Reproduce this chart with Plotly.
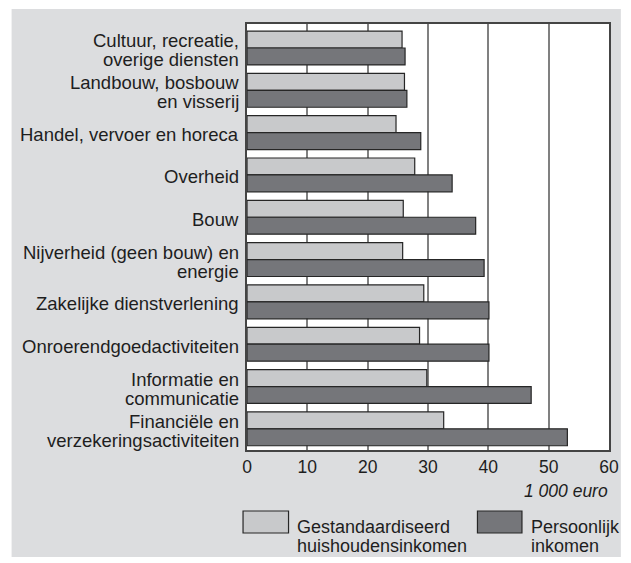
import plotly.graph_objects as go

categories = [
    "Cultuur, recreatie,<br>overige diensten",
    "Landbouw, bosbouw<br>en visserij",
    "Handel, vervoer en horeca",
    "Overheid",
    "Bouw",
    "Nijverheid (geen bouw) en<br>energie",
    "Zakelijke dienstverlening",
    "Onroerendgoedactiviteiten",
    "Informatie en<br>communicatie",
    "Financiële en<br>verzekeringsactiviteiten",
]
huishoudensinkomen = [25.7, 26.1, 24.7, 27.8, 25.9, 25.8, 29.3, 28.6, 29.8, 32.6]
persoonlijk_inkomen = [26.2, 26.5, 28.8, 34.0, 37.9, 39.3, 40.1, 40.1, 47.1, 53.1]
x_ticks = [0, 10, 20, 30, 40, 50, 60]
series_names = ["Gestandaardiseerd<br>huishoudensinkomen", "Persoonlijk<br>inkomen"]
unit_label = "1 000 euro"

LIGHT = "#c8c9cb"
DARK = "#75767a"
EDGE = "#262626"
PANEL = "#dcdddf"
TEXT = "#1e1e1e"
FONT = "Liberation Sans, Arial, Helvetica, sans-serif"
LABEL_SIZE = 18.5
TICK_SIZE = 17.5
LEG_SIZE = 18

fig = go.Figure()
fig.add_trace(go.Bar(y=categories, x=huishoudensinkomen, orientation="h", name=series_names[0],
                     marker=dict(color=LIGHT, line=dict(color=EDGE, width=1.2))))
fig.add_trace(go.Bar(y=categories, x=persoonlijk_inkomen, orientation="h", name=series_names[1],
                     marker=dict(color=DARK, line=dict(color=EDGE, width=1.2))))

W, H = 631, 563
L, R, T, B = 247, 18, 24, 113
pw, ph = W - L - R, H - T - B

def px(x):
    return (x - L) / pw

def py(y):
    return 1 - (y - T) / ph

shapes = [
    dict(type="rect", xref="paper", yref="paper", x0=px(9), x1=px(625), y0=py(557), y1=py(9),
         fillcolor=PANEL, line=dict(width=0), layer="below"),
    dict(type="rect", xref="paper", yref="paper", x0=0, x1=1, y0=0, y1=1,
         fillcolor="white", line=dict(width=0), layer="below"),
    dict(type="rect", xref="paper", yref="paper", x0=px(243), x1=px(289), y0=py(533), y1=py(511),
         fillcolor=LIGHT, line=dict(color=EDGE, width=1.2)),
    dict(type="rect", xref="paper", yref="paper", x0=px(480), x1=px(525), y0=py(533), y1=py(511),
         fillcolor=DARK, line=dict(color=EDGE, width=1.2)),
]

annotations = [
    dict(text=unit_label, xref="paper", yref="paper", x=px(614), y=py(491), xanchor="right", yanchor="middle",
         showarrow=False, font=dict(family=FONT, size=TICK_SIZE, color=TEXT, style="italic")),
]

# category labels, one annotation per line for tight line spacing
LINE_GAP = 19
for cat in categories:
    lines = cat.split("<br>")
    n = len(lines)
    for i, line in enumerate(lines):
        annotations.append(dict(
            text=line, xref="paper", yref="y", x=0, y=cat, xanchor="right", yanchor="middle",
            xshift=-6, yshift=((n - 1) / 2 - i) * LINE_GAP - 2, showarrow=False,
            font=dict(family=FONT, size=LABEL_SIZE, color=TEXT)))

# legend text, one annotation per line
LEG_GAP = 19
for name, xleft in zip(series_names, [296, 532]):
    for i, line in enumerate(name.split("<br>")):
        annotations.append(dict(
            text=line, xref="paper", yref="paper", x=px(xleft), y=py(527 + i * LEG_GAP),
            xanchor="left", yanchor="middle", showarrow=False,
            font=dict(family=FONT, size=LEG_SIZE, color=TEXT)))

fig.update_layout(
    width=W, height=H,
    margin=dict(l=L, r=R, t=T, b=B, pad=0),
    paper_bgcolor="white", plot_bgcolor="white",
    barmode="group", bargap=0.2, bargroupgap=0,
    showlegend=False,
    font=dict(family=FONT, size=TICK_SIZE, color=TEXT),
    shapes=shapes, annotations=annotations,
)
fig.update_xaxes(range=[0, 60], tickvals=x_ticks, showgrid=True, gridcolor="#808080", gridwidth=1.5,
                 showline=True, linecolor="#444444", linewidth=1.5, mirror=True, zeroline=False,
                 ticks="", tickfont=dict(size=TICK_SIZE, color=TEXT), fixedrange=True)
fig.update_yaxes(autorange="reversed", showgrid=False, showline=True, linecolor="#444444", linewidth=1.5,
                 mirror=True, ticks="", showticklabels=False, fixedrange=True)

fig.write_html("out.html", config={"displayModeBar": False},
               post_script="document.body.style.margin='0px';document.body.style.overflow='hidden';")
